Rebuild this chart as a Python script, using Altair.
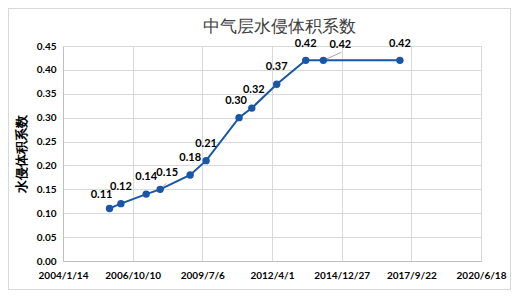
import altair as alt
import pandas as pd

title_text = "中气层水侵体积系数"
y_title = "水侵体积系数"

dates = ["2005-11-12", "2006-04-24", "2007-04-22", "2007-11-09", "2009-01-12", "2009-08-29",
         "2010-12-15", "2011-06-16", "2012-06-08", "2013-07-29", "2014-04-08", "2017-04-11"]
values = [0.11, 0.12, 0.14, 0.15, 0.18, 0.21, 0.30, 0.32, 0.37, 0.42, 0.42, 0.42]

x_ticks = ["2004-01-14", "2006-10-10", "2009-07-06", "2012-04-01", "2014-12-27", "2017-09-22", "2020-06-18"]
y_ticks = [0.0, 0.05, 0.10, 0.15, 0.20, 0.25, 0.30, 0.35, 0.40, 0.45]

# label nudges (style)
label_dx = [-8, 0, 0, 7, 0, 0, -3, 2, 0, 0, 17, 0]
label_dy = [-13, -17, -17, -16, -17, -17, -17, -18, -17, -16, -15, -16]

df = pd.DataFrame({"date": dates, "value": values, "i": list(range(len(dates)))})


def dt(s):
    y, m, d = map(int, s.split("-"))
    return alt.DateTime(year=y, month=m, date=d, utc=True)


FONT = "Lato"
BLUE = "#1A56A6"
W, H = 418, 215

x_enc = alt.X("date:T",
              scale=alt.Scale(type="utc", domain=[dt(x_ticks[0]), dt(x_ticks[-1])], nice=False),
              axis=alt.Axis(values=[dt(s) for s in x_ticks], title=None,
                            labelExpr="utcFormat(datum.value, '%Y/%-m/%-d')",
                            labelFont=FONT, labelFontSize=10, labelFontWeight="bold", labelColor="#000000",
                            labelPadding=9, ticks=False, domainColor="#BFBFBF", grid=True,
                            gridColor="#D9D9D9", labelOverlap=False, labelFlush=False))
y_enc = alt.Y("value:Q",
              scale=alt.Scale(domain=[0, 0.45], nice=False),
              axis=alt.Axis(values=y_ticks, format=".2f", title=y_title,
                            titleFont=FONT, titleFontSize=13, titleFontWeight="bold", titleColor="#000000",
                            titlePadding=8, labelOverlap=False, labelFlush=False, grid=True,
                            labelFont=FONT, labelFontSize=10, labelFontWeight="bold", labelColor="#000000",
                            labelPadding=7, ticks=False, domainColor="#BFBFBF", gridColor="#D9D9D9"))

base = alt.Chart(df).encode(x=x_enc, y=y_enc)

line = base.mark_line(color=BLUE, strokeWidth=2)
pts = base.mark_circle(color=BLUE, size=55, opacity=1)

leader1 = base.transform_filter("datum.i == 3").mark_rule(
    color="#A6A6A6", strokeWidth=1, x2Offset=6, y2Offset=-6).encode(x2="date:T", y2="value:Q")
leader2 = base.transform_filter("datum.i == 10").mark_rule(
    color="#A6A6A6", strokeWidth=1, x2Offset=18, y2Offset=-8).encode(x2="date:T", y2="value:Q")

label_layers = []
for k in range(len(dates)):
    label_layers.append(
        base.transform_filter(f"datum.i == {k}").mark_text(
            font=FONT, fontSize=11, fontWeight="bold", color="#000000",
            dx=label_dx[k], dy=label_dy[k], baseline="middle", align="center").encode(
            text=alt.Text("value:Q", format=".2f")))

border = alt.Chart(df).mark_rect(fill=None, stroke="#D9D9D9", strokeWidth=1).encode(
    x=alt.value(-54.5), x2=alt.value(W + 29.5), y=alt.value(-37.5), y2=alt.value(H + 28.5))

chart = alt.layer(line, leader1, leader2, pts, *label_layers, border).properties(
    width=W, height=H,
    title=alt.TitleParams(title_text, font=FONT, fontSize=17, fontWeight="normal", color="#404040",
                          anchor="middle", offset=0, dx=7, dy=28),
    autosize=alt.AutoSizeParams(type="none"),
    padding={"left": 55, "top": 38, "right": 30, "bottom": 29},
).configure_view(stroke=None).configure(background="white")

chart.save("out.html", embed_options={"renderer": "svg", "actions": False})
